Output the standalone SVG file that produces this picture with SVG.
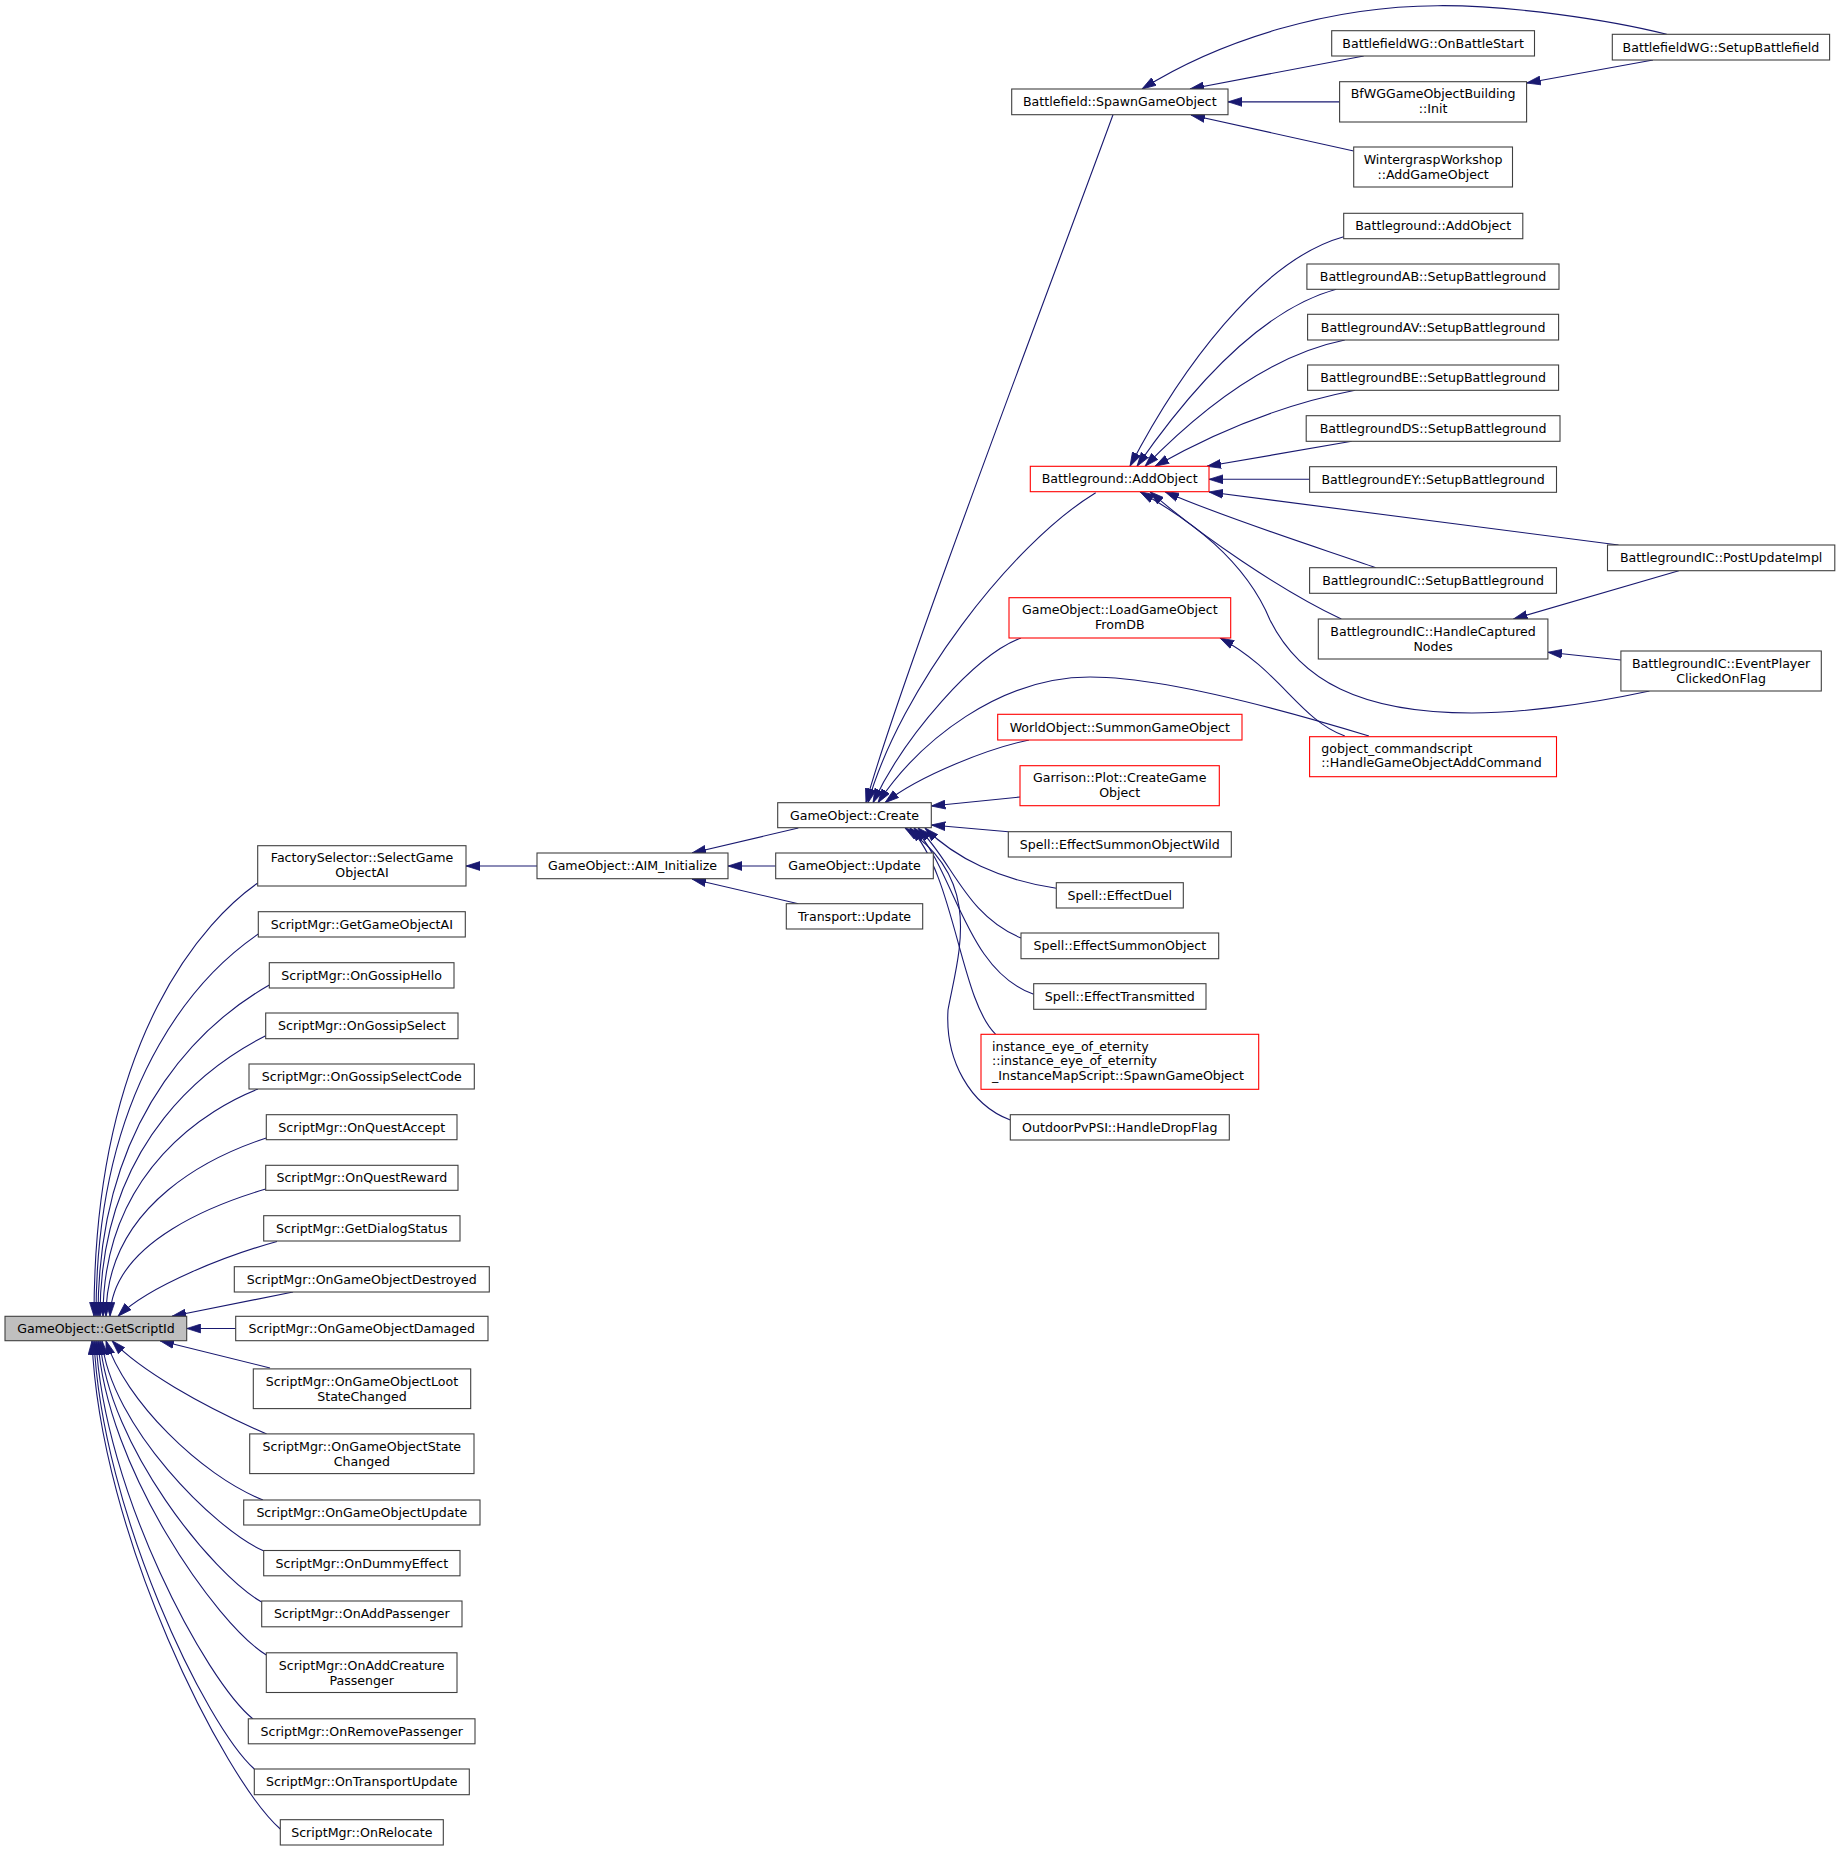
<svg xmlns="http://www.w3.org/2000/svg" width="1840" height="1851" viewBox="0 0 1840 1851">
<style>
text{font-family:"DejaVu Sans","Liberation Sans",sans-serif;font-size:12.6px;fill:#000;text-anchor:middle}
text.l{text-anchor:start}
.n rect{fill:#fff;stroke:#404040;stroke-width:1.1}
.r rect{fill:#fff;stroke:#ff0000;stroke-width:1.1}
.g rect{fill:#bfbfbf;stroke:#404040;stroke-width:1.1}
#edges path{fill:none;stroke:#191970;stroke-width:1.1;marker-end:url(#ah)}
</style>
<defs>
<marker id="ah" viewBox="0 0 14 10" refX="14" refY="5" markerWidth="14" markerHeight="10" markerUnits="userSpaceOnUse" orient="auto"><path d="M0,0.6 L14,5 L0,9.4 z" fill="#191970" stroke="#191970" stroke-width="0.8"/></marker>
</defs>
<rect width="1840" height="1851" fill="#fff"/>
<g id="edges">
<path d="M257.7,883 C208.6,917.3 94,1032.9 94,1316.3"/>
<path d="M258.3,934 C209.6,967.3 96,1069.8 96,1316.3"/>
<path d="M269.3,985 C217.9,1014.3 98,1102.9 98,1316.3"/>
<path d="M265.7,1035.7 C216,1060.9 100,1135.9 100,1316.3"/>
<path d="M258,1089 C211.5,1107.2 103,1168.6 103,1316.3"/>
<path d="M266.3,1138 C218.2,1153.8 106,1201.4 106,1316.3"/>
<path d="M265.7,1189 C222,1202 112,1240 110,1316.3"/>
<path d="M277,1241.5 C228,1255 150,1285 118,1316.3"/>
<path d="M293,1292 L172,1316.3"/>
<path d="M235.7,1328.5 L186.7,1328.5"/>
<path d="M270,1368 L160,1340.7"/>
<path d="M266.7,1434 C200,1405 140,1370 112,1340.7"/>
<path d="M263,1500 C200,1475 125,1400 106,1340.7"/>
<path d="M264,1551 C215,1530 110,1425 102,1340.7"/>
<path d="M261.7,1602 C213,1575 108,1445 100,1340.7"/>
<path d="M266.3,1655 C216,1624 106,1467 98,1340.7"/>
<path d="M253,1719 C206,1681 104,1492 96,1340.7"/>
<path d="M254.3,1769 C206,1726 102,1512 94,1340.7"/>
<path d="M280.3,1829 C224,1779 100,1536 92,1340.7"/>
<path d="M537,866 L466,866"/>
<path d="M798.3,828 L692,853"/>
<path d="M775.7,866 L728,866"/>
<path d="M798.3,903.7 L692,879"/>
<path d="M1113,114.7 C1060,260 900,680 866,802.7"/>
<path d="M1095.7,492.7 C1010,545 900,690 868,802.7"/>
<path d="M1021,638 C975,655 905,735 873,802.7"/>
<path d="M1368.9,736 C1300,715 1170,677 1090,677 C1000,677 920,740 878,802.7"/>
<path d="M1029,740 C990,748 920,775 885,802.7"/>
<path d="M1020,797 L931.3,806"/>
<path d="M1008.3,831.7 L931.3,825"/>
<path d="M1056.3,888.3 C1000,880 955,858 925,828"/>
<path d="M1021,938 C965,915 952,860 918,828"/>
<path d="M1033.7,994.3 C965,970 955,870 914,828"/>
<path d="M995.7,1034.3 C960,1000 955,875 910,828"/>
<path d="M1010.3,1120 C970,1105 945,1060 948,1010 C958,955 985,880 905,828"/>
<path d="M1666.7,34.3 C1610,20 1510,5 1437.7,5.7 C1330,6 1220,40 1142,89"/>
<path d="M1363.7,56 L1190,89"/>
<path d="M1339.6,101.85 L1228,101.85"/>
<path d="M1353.7,151 L1191,115"/>
<path d="M1653,60 L1526.6,83"/>
<path d="M1343.7,236.7 C1260,260 1180,370 1130,466.3"/>
<path d="M1336.2,289.3 C1260,310 1190,390 1137,466.3"/>
<path d="M1344.8,340 C1270,355 1200,410 1145,466.3"/>
<path d="M1355.1,390.3 C1280,405 1210,435 1155,466.3"/>
<path d="M1351.7,441.3 L1207,466.3"/>
<path d="M1309.6,479.3 L1209,479.3"/>
<path d="M1618.5,545 L1209,492"/>
<path d="M1375.8,567.7 C1332,552 1230,520 1165,491.7"/>
<path d="M1341.3,619 C1280,590 1200,535 1150,491.7"/>
<path d="M1649.5,691 C1580,706 1515,713 1472,713 C1360,713 1300,680 1270,620 C1245,560 1190,520 1140,491.7"/>
<path d="M1678.8,570.7 L1513.5,619"/>
<path d="M1620.9,660 L1547.9,652.3"/>
<path d="M1344.8,736 C1300,720 1280,670 1220,638"/>
</g>
<g id="n_getscriptid" class="g"><rect x="5" y="1316.3" width="181.7" height="24.4"/><text x="96" y="1332.9">GameObject::GetScriptId</text></g>
<g id="n_factory" class="n"><rect x="257.7" y="845.7" width="208.3" height="40.3"/><text x="362" y="862.4">FactorySelector::SelectGame</text><text x="362" y="877.4">ObjectAI</text></g>
<g id="n_getgoai" class="n"><rect x="258.3" y="911.7" width="207" height="25.3"/><text x="361.8" y="928.8">ScriptMgr::GetGameObjectAI</text></g>
<g id="n_gossiphello" class="n"><rect x="269.3" y="962.7" width="184.7" height="25.3"/><text x="361.7" y="979.8">ScriptMgr::OnGossipHello</text></g>
<g id="n_gossipselect" class="n"><rect x="265.7" y="1013" width="192.3" height="25.7"/><text x="361.8" y="1030.3">ScriptMgr::OnGossipSelect</text></g>
<g id="n_gossipselectcode" class="n"><rect x="249" y="1064" width="225.3" height="25"/><text x="361.7" y="1080.9">ScriptMgr::OnGossipSelectCode</text></g>
<g id="n_questaccept" class="n"><rect x="266.3" y="1114.7" width="190.7" height="25"/><text x="361.7" y="1131.6">ScriptMgr::OnQuestAccept</text></g>
<g id="n_questreward" class="n"><rect x="265.7" y="1165.3" width="192.3" height="25"/><text x="361.8" y="1182.2">ScriptMgr::OnQuestReward</text></g>
<g id="n_dialogstatus" class="n"><rect x="263.7" y="1215.7" width="196.3" height="25.3"/><text x="361.8" y="1232.8">ScriptMgr::GetDialogStatus</text></g>
<g id="n_destroyed" class="n"><rect x="234.3" y="1266.7" width="255" height="25.3"/><text x="361.8" y="1283.8">ScriptMgr::OnGameObjectDestroyed</text></g>
<g id="n_damaged" class="n"><rect x="235.7" y="1316.3" width="252.3" height="24.4"/><text x="361.8" y="1332.9">ScriptMgr::OnGameObjectDamaged</text></g>
<g id="n_lootstate" class="n"><rect x="253.3" y="1368.9" width="217.4" height="39.7"/><text x="362" y="1385.6">ScriptMgr::OnGameObjectLoot</text><text x="362" y="1400.6">StateChanged</text></g>
<g id="n_statechanged" class="n"><rect x="249.7" y="1433.9" width="224.3" height="39.7"/><text x="361.8" y="1450.6">ScriptMgr::OnGameObjectState</text><text x="361.8" y="1465.6">Changed</text></g>
<g id="n_goupdate_s" class="n"><rect x="243.7" y="1500" width="236.3" height="25"/><text x="361.8" y="1516.9">ScriptMgr::OnGameObjectUpdate</text></g>
<g id="n_dummy" class="n"><rect x="263.7" y="1550.5" width="196.3" height="25.3"/><text x="361.8" y="1567.6">ScriptMgr::OnDummyEffect</text></g>
<g id="n_addpassenger" class="n"><rect x="261.7" y="1601" width="200.3" height="25.8"/><text x="361.8" y="1618.3">ScriptMgr::OnAddPassenger</text></g>
<g id="n_addcreature" class="n"><rect x="266.3" y="1652.8" width="190.7" height="39.7"/><text x="361.7" y="1669.5">ScriptMgr::OnAddCreature</text><text x="361.7" y="1684.5">Passenger</text></g>
<g id="n_removepassenger" class="n"><rect x="248.3" y="1718.8" width="226.7" height="25"/><text x="361.7" y="1735.7">ScriptMgr::OnRemovePassenger</text></g>
<g id="n_transportupdate" class="n"><rect x="254.3" y="1769" width="215" height="25.7"/><text x="361.8" y="1786.3">ScriptMgr::OnTransportUpdate</text></g>
<g id="n_relocate" class="n"><rect x="280.3" y="1819.7" width="163" height="25.3"/><text x="361.8" y="1836.8">ScriptMgr::OnRelocate</text></g>
<g id="n_aim" class="n"><rect x="537" y="853" width="191" height="25.7"/><text x="632.5" y="870.3">GameObject::AIM_Initialize</text></g>
<g id="n_create" class="n"><rect x="777.7" y="802.7" width="153.6" height="25"/><text x="854.5" y="819.6">GameObject::Create</text></g>
<g id="n_goupdate" class="n"><rect x="775.7" y="853" width="157.6" height="25.7"/><text x="854.5" y="870.3">GameObject::Update</text></g>
<g id="n_transport" class="n"><rect x="786.3" y="903.7" width="136.4" height="25.3"/><text x="854.5" y="920.8">Transport::Update</text></g>
<g id="n_spawn" class="n"><rect x="1011.7" y="89" width="216.3" height="25.7"/><text x="1119.8" y="106.3">Battlefield::SpawnGameObject</text></g>
<g id="n_addobject_r" class="r"><rect x="1030.3" y="466.3" width="178.7" height="25.4"/><text x="1119.7" y="483.4">Battleground::AddObject</text></g>
<g id="n_loadgo" class="r"><rect x="1009" y="597.7" width="221.7" height="40.3"/><text x="1119.8" y="614.4">GameObject::LoadGameObject</text><text x="1119.8" y="629.4">FromDB</text></g>
<g id="n_worldobj" class="r"><rect x="997.7" y="714.3" width="244.3" height="25.7"/><text x="1119.8" y="731.6">WorldObject::SummonGameObject</text></g>
<g id="n_garrison" class="r"><rect x="1020" y="765.7" width="199.3" height="40"/><text x="1119.7" y="782.4">Garrison::Plot::CreateGame</text><text x="1119.7" y="797.4">Object</text></g>
<g id="n_summonwild" class="n"><rect x="1008.3" y="831.7" width="223" height="25.3"/><text x="1119.8" y="848.8">Spell::EffectSummonObjectWild</text></g>
<g id="n_duel" class="n"><rect x="1056.3" y="882.7" width="127" height="25.3"/><text x="1119.8" y="899.8">Spell::EffectDuel</text></g>
<g id="n_summonobj" class="n"><rect x="1021" y="933" width="197.7" height="25.7"/><text x="1119.8" y="950.3">Spell::EffectSummonObject</text></g>
<g id="n_transmitted" class="n"><rect x="1033.7" y="983.7" width="172.3" height="25.6"/><text x="1119.8" y="1000.9">Spell::EffectTransmitted</text></g>
<g id="n_eye" class="r"><rect x="981" y="1034.3" width="277.7" height="55"/><text class="l" x="992" y="1051.2">instance_eye_of_eternity</text><text class="l" x="992" y="1065.4">::instance_eye_of_eternity</text><text class="l" x="992" y="1079.8">_InstanceMapScript::SpawnGameObject</text></g>
<g id="n_outdoor" class="n"><rect x="1010.3" y="1114.7" width="219" height="25.3"/><text x="1119.8" y="1131.8">OutdoorPvPSI::HandleDropFlag</text></g>
<g id="n_battlestart" class="n"><rect x="1331.7" y="30.7" width="202.8" height="25.3"/><text x="1433.1" y="47.8">BattlefieldWG::OnBattleStart</text></g>
<g id="n_bfwginit" class="n"><rect x="1339.6" y="81.7" width="187" height="40.3"/><text x="1433.1" y="98.4">BfWGGameObjectBuilding</text><text x="1433.1" y="113.4">::Init</text></g>
<g id="n_wintergrasp" class="n"><rect x="1353.7" y="147" width="158.8" height="40"/><text x="1433.1" y="163.7">WintergraspWorkshop</text><text x="1433.1" y="178.7">::AddGameObject</text></g>
<g id="n_addobject_b" class="n"><rect x="1343.7" y="213.3" width="179.1" height="25.4"/><text x="1433.2" y="230.4">Battleground::AddObject</text></g>
<g id="n_ab" class="n"><rect x="1306.9" y="264" width="252.1" height="25.3"/><text x="1433" y="281.1">BattlegroundAB::SetupBattleground</text></g>
<g id="n_av" class="n"><rect x="1307.6" y="314.3" width="251" height="25.7"/><text x="1433.1" y="331.6">BattlegroundAV::SetupBattleground</text></g>
<g id="n_be" class="n"><rect x="1307.6" y="365" width="251" height="25.3"/><text x="1433.1" y="382.1">BattlegroundBE::SetupBattleground</text></g>
<g id="n_ds" class="n"><rect x="1306.2" y="415.7" width="253.8" height="25.6"/><text x="1433.1" y="432.9">BattlegroundDS::SetupBattleground</text></g>
<g id="n_ey" class="n"><rect x="1309.6" y="466.7" width="246.9" height="25.6"/><text x="1433.05" y="483.9">BattlegroundEY::SetupBattleground</text></g>
<g id="n_icsetup" class="n"><rect x="1309.6" y="567.7" width="246.9" height="25.6"/><text x="1433.05" y="584.9">BattlegroundIC::SetupBattleground</text></g>
<g id="n_handlecaptured" class="n"><rect x="1318.3" y="619" width="229.6" height="40"/><text x="1433.1" y="635.7">BattlegroundIC::HandleCaptured</text><text x="1433.1" y="650.7">Nodes</text></g>
<g id="n_gobject" class="r"><rect x="1309.6" y="736.7" width="246.9" height="40"/><text class="l" x="1321.3" y="753">gobject_commandscript</text><text class="l" x="1321.3" y="767.3">::HandleGameObjectAddCommand</text></g>
<g id="n_setupbattlefield" class="n"><rect x="1612.3" y="34.3" width="217.3" height="25.7"/><text x="1720.95" y="51.6">BattlefieldWG::SetupBattlefield</text></g>
<g id="n_postupdate" class="n"><rect x="1607.5" y="545" width="227.3" height="25.7"/><text x="1721.15" y="562.3">BattlegroundIC::PostUpdateImpl</text></g>
<g id="n_eventplayer" class="n"><rect x="1620.9" y="651" width="200.4" height="40"/><text x="1721.1" y="667.7">BattlegroundIC::EventPlayer</text><text x="1721.1" y="682.7">ClickedOnFlag</text></g>
</svg>
